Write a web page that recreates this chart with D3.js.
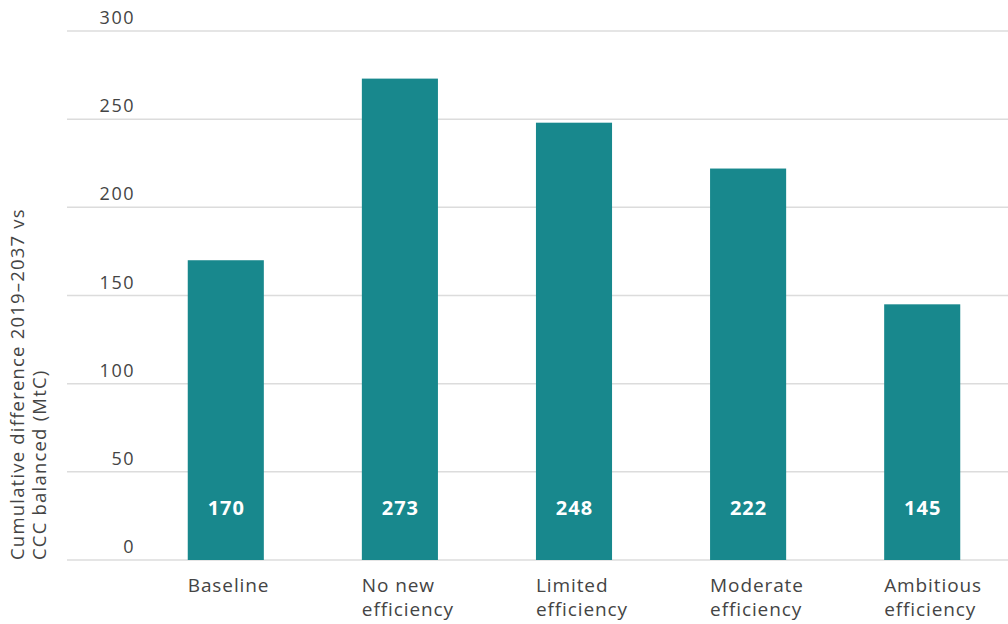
<!DOCTYPE html>
<html><head><meta charset="utf-8">
<script src="https://cdn.jsdelivr.net/npm/d3@7"></script>
<style>
body{margin:0;background:#fff;}
text{font-family:"Open Sans",Lato,sans-serif;}
</style></head>
<body>
<svg id="chart" width="1008" height="624"></svg>
<script>
const categories = [["Baseline"],["No new","efficiency"],["Limited","efficiency"],["Moderate","efficiency"],["Ambitious","efficiency"]];
const values = [170, 273, 248, 222, 145];
const yTicks = [0, 50, 100, 150, 200, 250, 300];
const yTitle = ["Cumulative difference 2019\u20132037 vs", "CCC balanced (MtC)"];

const svg = d3.select("#chart");
const W = 1008, H = 624;
const x = d3.scaleBand().domain(d3.range(categories.length)).range([139, 1009]).paddingInner(0.563).paddingOuter(0.28);
const y = d3.scaleLinear().domain([0, 300]).range([560, 31]);

// gridlines
svg.append("g").selectAll("line").data(yTicks).join("line")
  .attr("x1", 67).attr("x2", W)
  .attr("y1", d => y(d)).attr("y2", d => y(d))
  .attr("stroke", "#dcdcdc").attr("stroke-width", 1.5);

// tick labels
svg.append("g").selectAll("text").data(yTicks).join("text")
  .attr("x", 135).attr("y", d => y(d) - 7)
  .attr("text-anchor", "end")
  .attr("font-size", 18).attr("letter-spacing", 1.5).attr("fill", "#444")
  .text(d => d);

// bars
svg.append("g").selectAll("rect").data(values).join("rect")
  .attr("x", (d, i) => x(i)).attr("width", x.bandwidth())
  .attr("y", d => y(d)).attr("height", d => y(0) - y(d))
  .attr("fill", "#18888d");

// value labels
svg.append("g").selectAll("text").data(values).join("text")
  .attr("x", (d, i) => x(i) + x.bandwidth() / 2 + 0.5).attr("y", 515)
  .attr("text-anchor", "middle")
  .attr("font-size", 20).attr("font-weight", "bold").attr("letter-spacing", 1).attr("fill", "#fff")
  .text(d => d);

// category labels
const cg = svg.append("g").selectAll("text").data(categories).join("text")
  .attr("x", (d, i) => x(i)).attr("y", 592)
  .attr("font-size", 19).attr("letter-spacing", 0.9).attr("fill", "#444");
cg.selectAll("tspan").data(d => d).join("tspan")
  .attr("x", function() { return d3.select(this.parentNode).attr("x"); })
  .attr("dy", (d, j) => j === 0 ? 0 : 24)
  .text(d => d);

// y title
const yt = svg.append("text").attr("transform", "translate(24,560) rotate(-90)")
  .attr("font-size", 18.5).attr("letter-spacing", 1.2).attr("fill", "#444");
yt.selectAll("tspan").data(yTitle).join("tspan")
  .attr("x", 0).attr("dy", (d, j) => j === 0 ? 0 : 22)
  .text(d => d);
</script>
</body></html>
